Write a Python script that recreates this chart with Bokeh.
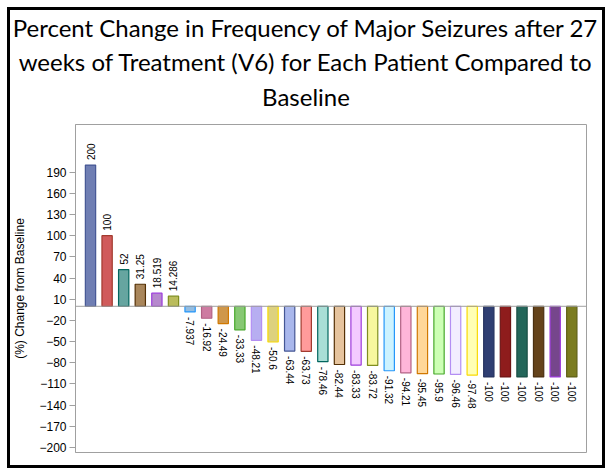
from bokeh.plotting import figure
from bokeh.models import ColumnDataSource, FixedTicker, Range1d, Span
from bokeh.layouts import column
from bokeh.core.properties import value
from bokeh.embed import file_html
from bokeh.resources import INLINE
from math import pi

# ---- data ----
patients = list(range(1, 31))
pct_change = [200, 100, 52, 31.25, 18.519, 14.286, -7.937, -16.92, -24.49, -33.33,
              -48.21, -50.6, -63.44, -63.73, -78.46, -82.44, -83.33, -83.72, -91.32, -94.21,
              -95.45, -95.9, -96.46, -97.48, -100, -100, -100, -100, -100, -100]
y_ticks = [-200, -170, -140, -110, -80, -50, -20, 10, 40, 70, 100, 130, 160, 190]
fill_colors = ["#6F7EB3", "#D05B5B", "#66A5A0", "#A9865B", "#B689CD", "#BABC5C",
               "#94BDE1", "#CD7BA1", "#CF974B", "#87C873", "#B7AEF1", "#DDD17E",
               "#A9B7EC", "#FF9B9B", "#A9DED6", "#E6C49E", "#F3CBFF", "#F7F79E",
               "#CDF3FF", "#FFB5D9", "#FFD799", "#CDFFB5", "#F2EDFF", "#FFFFB5",
               "#2F3E72", "#8E1C1C", "#23665A", "#64431B", "#76468C", "#7B7C20"]
line_colors = ["#445694", "#A23A2E", "#01665E", "#543005", "#9D3CDB", "#7F8E1F",
               "#2597FA", "#B26084", "#D17800", "#47A82A", "#B38EF3", "#F9DA04",
               "#445694", "#A23A2E", "#01665E", "#543005", "#9D3CDB", "#7F8E1F",
               "#2597FA", "#B26084", "#D17800", "#47A82A", "#B38EF3", "#F9DA04",
               "#26335F", "#6E1414", "#1A4F46", "#4A3012", "#9D3CDB", "#5F6017"]
title_lines = ["Percent Change in Frequency of Major Seizures after 27",
               "weeks of Treatment (V6) for Each Patient Compared to",
               "Baseline"]
y_label = "(%) Change from Baseline"

labels = [f"{v:g}" for v in pct_change]
pos = [v >= 0 for v in pct_change]

# ---- title panel ----
tp = figure(output_backend="svg", toolbar_location=None, width=590, height=114,
            x_range=Range1d(0, 590), y_range=Range1d(114, 0),
            min_border=0, outline_line_color=None,
            background_fill_color="white", border_fill_color="white")
tp.frame_align = False
tp.axis.visible = False
tp.grid.visible = False
tp.text(x=[295.5] * 3, y=[17, 51, 86], text=title_lines,
        text_align="center", text_baseline="middle", text_font=value("Lato"),
        text_font_size="24px", text_color="#000000")

# ---- bar chart ----
src = ColumnDataSource(dict(x=patients, y=pct_change, fc=fill_colors, lc=line_colors))
src_pos = ColumnDataSource(dict(x=[x for x, p in zip(patients, pos) if p],
                                y=[y for y, p in zip(pct_change, pos) if p],
                                t=[t for t, p in zip(labels, pos) if p]))
src_neg = ColumnDataSource(dict(x=[x for x, p in zip(patients, pos) if not p],
                                y=[y for y, p in zip(pct_change, pos) if not p],
                                t=[t for t, p in zip(labels, pos) if not p]))

p = figure(output_backend="svg", toolbar_location=None,
           frame_width=511, frame_height=328,
           min_border_left=63, min_border_right=16, min_border_top=0, min_border_bottom=13,
           x_range=Range1d(0.096, 30.886), y_range=Range1d(-207.1, 257.5),
           background_fill_color="white", border_fill_color="white")
p.frame_align = False

p.vbar(x="x", top="y", bottom=0, width=0.62, source=src,
       fill_color="fc", line_color="lc", line_width=1.2)

p.add_layout(Span(location=0, dimension="width", line_color="#A0A0A0", line_width=1))

p.text(x="x", y="y", text="t", source=src_pos, angle=pi / 2, y_offset=-5,
       text_align="left", text_baseline="middle", text_font=value("Liberation Sans"),
       text_font_size="10px", text_color="#000000")
p.text(x="x", y="y", text="t", source=src_neg, angle=-pi / 2, y_offset=5,
       text_align="left", text_baseline="middle", text_font=value("Liberation Sans"),
       text_font_size="10px", text_color="#000000")

p.xaxis.visible = False
p.xgrid.visible = False
p.ygrid.visible = False
p.yaxis.ticker = FixedTicker(ticks=y_ticks)
p.yaxis.axis_label = y_label
p.yaxis.axis_label_text_font = "Liberation Sans"
p.yaxis.axis_label_text_font_size = "12px"
p.yaxis.axis_label_text_font_style = "normal"
p.yaxis.axis_label_text_color = "#000000"
p.yaxis.axis_label_standoff = 9
p.yaxis.major_label_text_font = "Liberation Sans"
p.yaxis.major_label_text_font_size = "12px"
p.yaxis.major_label_text_color = "#000000"
p.yaxis.major_label_standoff = 3
p.yaxis.major_tick_out = 6
p.yaxis.major_tick_in = 0
p.yaxis.minor_tick_line_color = None
p.yaxis.major_tick_line_color = "#A0A0A0"
p.yaxis.axis_line_color = "#A0A0A0"
p.outline_line_color = "#A0A0A0"
p.outline_line_alpha = 1

layout = column(tp, p, spacing=0,
                styles={"border": "3px solid black", "margin": "7px",
                        "background-color": "white"})

open("out.html", "w").write(file_html(layout, INLINE))
